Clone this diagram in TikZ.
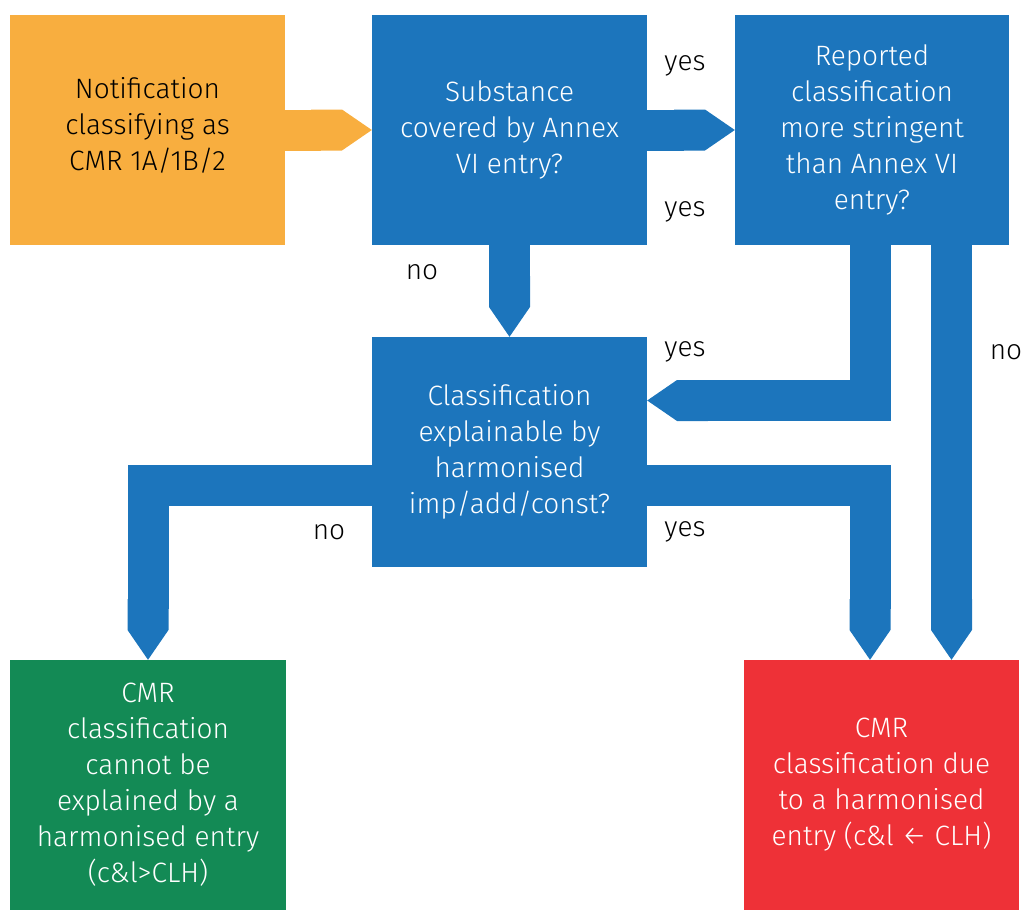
\documentclass[tikz,border=0pt]{standalone}
\usepackage{fontspec}
\setmainfont{Fira Sans Light}
\usetikzlibrary{arrows.meta}
\definecolor{notifcol}{HTML}{F8AE3F}
\definecolor{askcol}{HTML}{1C75BC}
\definecolor{okcol}{HTML}{138A55}
\definecolor{badcol}{HTML}{EE3137}
\tikzset{
  box/.style={rectangle, minimum width=275pt, minimum height=230pt, inner sep=0pt,
    align=center, font=\fontsize{28}{36}\selectfont, text=white},
  band/.style={line width=41pt, line join=miter, askcol, -{Triangle Cap[cap angle=69]}},
  answer/.style={font=\fontsize{28}{36}\selectfont, text=black}
}
\begin{document}
\begin{tikzpicture}[x=1pt, y=-1pt]
  \useasboundingbox (0,0) rectangle (1023,910);
  \node[box, fill=notifcol, text=black] (notif) at (147.5,130)
    {Notification\\classifying as\\CMR 1A/1B/2\\[-24pt]};
  \node[box, fill=askcol] (annex) at (509.5,130)
    {Substance\\covered by Annex\\VI entry?};
  \node[box, fill=askcol, minimum width=274pt] (stringent) at (872,130)
    {Reported\\classification\\more stringent\\than Annex VI\\entry?};
  \node[box, fill=askcol] (explain) at (509.5,452)
    {Classification\\explainable by\\harmonised\\imp/add/const?};
  \node[box, fill=okcol, minimum width=276pt, minimum height=250pt] (notexpl) at (148,785)
    {CMR\\classification\\cannot be\\explained by a\\harmonised entry\\(c\&l>CLH)};
  \node[box, fill=badcol, minimum height=250pt] (harm) at (881.5,785)
    {CMR\\classification due\\to a harmonised\\entry (c\&l ← CLH)};
  \begin{scope}
    \draw[band, notifcol] (notif.east) -- (annex.west);
    \draw[band] (annex.east) -- (stringent.west);
    \draw[band] (annex.south) -- (explain.north);
    \draw[band] (stringent.south -| 870,0) |- (explain.east |- 0,400.5);
    \draw[band] (stringent.south -| 951.5,0) -- (harm.north -| 951.5,0);
    \draw[band] (explain.east |- 0,485) -| (harm.north -| 870,0);
    \draw[band] (explain.west |- 0,485) -| (notexpl.north);
  \end{scope}
  \node[answer] (yestop) at (685,66) {yes};
  \node[answer] (yesmid) at (685,212) {yes};
  \node[answer] (noannex) at (422,272) {no};
  \node[answer] (yesmore) at (685,352) {yes};
  \node[answer] (nomore) at (1006,352) {no};
  \node[answer] (noexpl) at (329,532) {no};
  \node[answer] (yesexpl) at (685,532) {yes};
\end{tikzpicture}
\end{document}
